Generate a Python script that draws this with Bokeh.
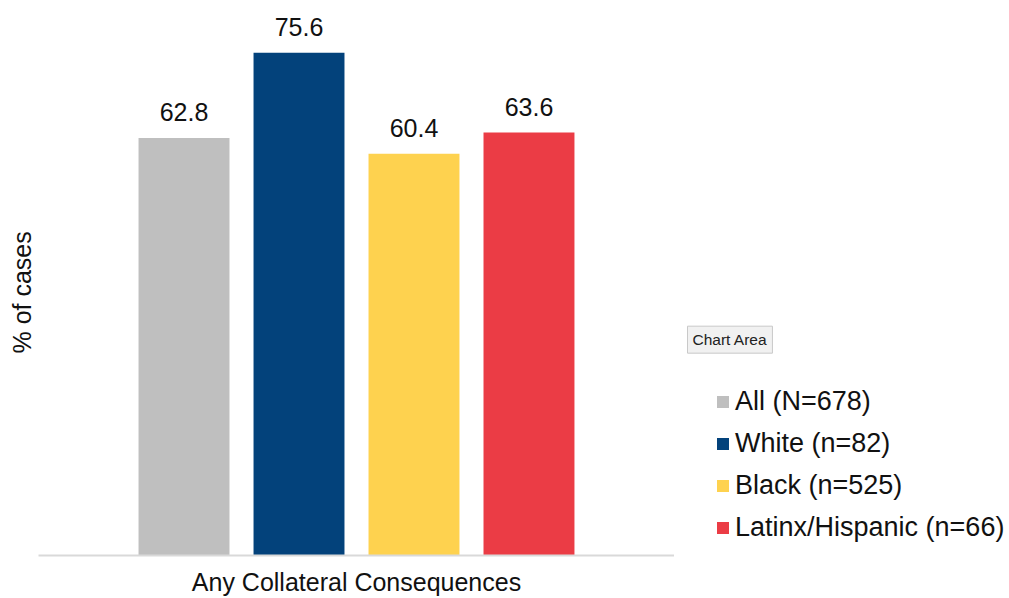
from bokeh.plotting import figure
from bokeh.layouts import row
from bokeh.models import (FactorRange, Range1d, Legend, LegendItem, Label,
                          ColumnDataSource, Title)
from bokeh.transform import dodge
from bokeh.core.properties import value
from bokeh.embed import file_html
from bokeh.resources import INLINE

category = ["Any Collateral Consequences"]
groups = ["All (N=678)", "White (n=82)", "Black (n=525)", "Latinx/Hispanic (n=66)"]
values = [62.8, 75.6, 60.4, 63.6]
colors = ["#BFBFBF", "#03427B", "#FED24F", "#EB3C45"]
offsets = [-0.2712, -0.0904, 0.0904, 0.2712]
y_label = "% of cases"
tooltip_text = "Chart Area"

FONT = "Liberation Sans"

p = figure(width=674, height=598,
           x_range=FactorRange(factors=category, range_padding=0),
           y_range=Range1d(0, 83.46),
           output_backend="svg", toolbar_location=None,
           min_border_left=38, min_border_right=0,
           min_border_top=0, min_border_bottom=43)
p.outline_line_color = None
p.xgrid.visible = False
p.ygrid.visible = False
p.yaxis.visible = False

for g, v, c, off in zip(groups, values, colors, offsets):
    src = ColumnDataSource(dict(x=category, top=[v], lab=[f"{v:.1f}"]))
    p.vbar(x=dodge("x", off, range=p.x_range), top="top", width=0.143,
           source=src, fill_color=c, line_color=None)
    p.text(x=dodge("x", off, range=p.x_range), y="top", text="lab", source=src,
           text_align="center", text_baseline="bottom", y_offset=-17,
           text_font=value(FONT), text_font_size="25px", text_color="#111111")

xa = p.xaxis[0]
xa.axis_line_color = "#D9D9D9"
xa.axis_line_width = 2
xa.major_tick_line_color = None
xa.minor_tick_line_color = None
xa.major_tick_out = 0
xa.major_label_standoff = 12
xa.major_label_text_font = FONT
xa.major_label_text_font_size = "25px"
xa.major_label_text_color = "#111111"

ttl = Title(text=y_label, align="left", offset=202, text_font=FONT,
            text_font_size="25px", text_font_style="normal", text_color="#111111",
            standoff=6)
p.add_layout(ttl, "left")

# right-hand panel: legend and tooltip
p2 = figure(width=335, height=598, x_range=Range1d(0, 335), y_range=Range1d(0, 598),
            output_backend="svg", toolbar_location=None,
            min_border_left=0, min_border_right=0, min_border_top=0, min_border_bottom=0)
p2.outline_line_color = None
p2.axis.visible = False
p2.grid.visible = False

items = []
for i, (g, v, c) in enumerate(zip(groups, values, colors)):
    src2 = ColumnDataSource(dict(x=[i], top=[v]))
    r = p2.vbar(x="x", top="top", width=0.5, source=src2,
                fill_color=c, line_color=None, visible=False)
    items.append(LegendItem(label=g, renderers=[r]))

legend = Legend(items=items, location=(41, 7), padding=0, margin=0,
                glyph_width=15, glyph_height=15, label_standoff=5,
                label_height=42, spacing=0,
                label_text_font=FONT, label_text_font_size="27px",
                label_text_color="#111111",
                inactive_fill_alpha=0,
                border_line_color=None, background_fill_alpha=0)
p2.add_layout(legend)

tip = Label(x=13, y=218, text=tooltip_text,
            text_font=FONT, text_font_size="15.5px", text_color="#222222",
            text_align="left", text_baseline="bottom",
            background_fill_color="#F1F1F1", border_line_color="#C9C9C9", padding=5)
p2.add_layout(tip)

layout = row(p, p2, spacing=0)
open("out.html", "w").write(file_html(layout, INLINE))
